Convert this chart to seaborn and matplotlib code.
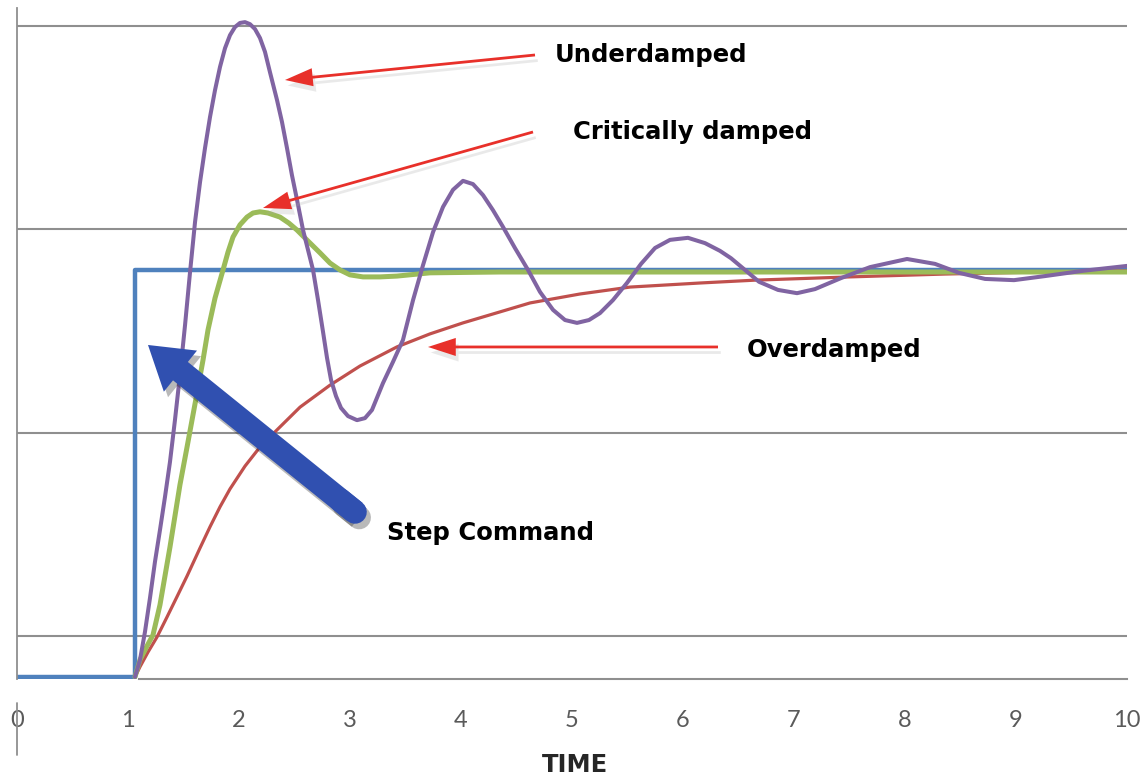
import matplotlib
matplotlib.use("Agg")
import matplotlib.pyplot as plt
import seaborn as sns
from matplotlib.patches import FancyArrowPatch
from matplotlib import patheffects as pe

# ---- data (time, response; 1.0 = commanded level) ----
step_t = [0.0, 1.06, 1.06, 10.0]
step_y = [0.0, 0.0, 1.0, 1.0]

over_t = [1.063, 1.108, 1.180, 1.261, 1.351, 1.441, 1.532, 1.649, 1.739, 1.829,
          1.919, 2.054, 2.189, 2.342, 2.550, 2.820, 3.090, 3.423, 3.721, 4.018,
          4.351, 4.622, 5.072, 5.523, 6.153, 6.649, 7.505, 8.360, 9.216, 10.0]
over_y = [0.000, 0.025, 0.061, 0.098, 0.147, 0.197, 0.248, 0.317, 0.369, 0.418,
          0.462, 0.518, 0.565, 0.607, 0.663, 0.717, 0.764, 0.811, 0.843, 0.870,
          0.897, 0.919, 0.941, 0.958, 0.968, 0.975, 0.983, 0.990, 0.995, 0.998]

crit_t = [1.063, 1.108, 1.171, 1.225, 1.288, 1.378, 1.468, 1.532, 1.622, 1.676,
          1.721, 1.784, 1.856, 1.901, 1.946, 2.009, 2.072, 2.126, 2.189, 2.261,
          2.369, 2.450, 2.523, 2.622, 2.730, 2.820, 2.910, 3.000, 3.117, 3.270,
          3.423, 3.721, 4.351, 10.0]
crit_y = [0.000, 0.042, 0.076, 0.103, 0.177, 0.319, 0.472, 0.565, 0.698, 0.779,
          0.853, 0.931, 1.000, 1.044, 1.081, 1.111, 1.130, 1.140, 1.143, 1.140,
          1.130, 1.115, 1.098, 1.071, 1.042, 1.017, 1.000, 0.988, 0.983, 0.983,
          0.985, 0.993, 0.995, 0.995]

under_t = [1.063, 1.108, 1.153, 1.198, 1.243, 1.288, 1.333, 1.378, 1.423, 1.468,
           1.514, 1.559, 1.604, 1.649, 1.694, 1.739, 1.784, 1.829, 1.874, 1.919,
           1.964, 2.009, 2.054, 2.099, 2.144, 2.189, 2.234, 2.279, 2.342, 2.387,
           2.432, 2.477, 2.523, 2.577, 2.622, 2.667, 2.712, 2.757, 2.793, 2.829,
           2.874, 2.919, 2.982, 3.063, 3.135, 3.198, 3.297, 3.387, 3.477, 3.568,
           3.658, 3.748, 3.838, 3.928, 4.018, 4.108, 4.198, 4.288, 4.378, 4.486,
           4.604, 4.712, 4.829, 4.937, 5.045, 5.153, 5.252, 5.369, 5.495, 5.622,
           5.748, 5.883, 6.045, 6.198, 6.333, 6.432, 6.559, 6.685, 6.856, 7.027,
           7.189, 7.423, 7.685, 8.018, 8.270, 8.486, 8.721, 8.982, 9.261, 9.604, 10.0]
under_y = [0.000, 0.042, 0.111, 0.194, 0.283, 0.361, 0.442, 0.528, 0.631, 0.742,
           0.865, 0.995, 1.118, 1.216, 1.300, 1.376, 1.442, 1.499, 1.545, 1.577,
           1.597, 1.607, 1.609, 1.604, 1.592, 1.570, 1.536, 1.486, 1.418, 1.364,
           1.300, 1.233, 1.172, 1.098, 1.049, 1.000, 0.926, 0.848, 0.784, 0.730,
           0.690, 0.661, 0.641, 0.631, 0.636, 0.656, 0.722, 0.774, 0.828, 0.926,
           1.012, 1.093, 1.155, 1.197, 1.219, 1.211, 1.184, 1.147, 1.106, 1.054,
           1.000, 0.946, 0.902, 0.877, 0.870, 0.877, 0.894, 0.926, 0.968, 1.015,
           1.054, 1.074, 1.079, 1.066, 1.047, 1.029, 1.000, 0.971, 0.951, 0.943,
           0.953, 0.980, 1.007, 1.027, 1.015, 0.993, 0.978, 0.975, 0.985, 0.998, 1.010]

x_ticks = list(range(0, 11))
x_labels = [str(v) for v in x_ticks]
grid_levels = [0.1, 0.6, 1.1, 1.6]

# Excel 2007 palette
c_step, c_over, c_crit, c_under = "#4f81bd", "#c0504d", "#9bbb59", "#8064a2"
c_grid = "#8f8f8f"


def px(x, y):
    # pixel position in the reference -> data coords (layout helper for annotations)
    return ((x - 17) / 111.0, (677 - y) / 407.0)


sns.set_style("white")
plt.rcParams["font.family"] = ["DejaVu Sans"]

fig = plt.figure(figsize=(11.48, 7.78), dpi=100)
ax = fig.add_axes([17 / 1148, (778 - 679) / 778, 1110 / 1148, 671 / 778])

sns.lineplot(x=step_t, y=step_y, ax=ax, color=c_step, lw=3.2, estimator=None, sort=False, zorder=2)
sns.lineplot(x=over_t, y=over_y, ax=ax, color=c_over, lw=2.3, estimator=None, sort=False, zorder=3)
sns.lineplot(x=crit_t, y=crit_y, ax=ax, color=c_crit, lw=3.6, estimator=None, sort=False, zorder=4)
sns.lineplot(x=under_t, y=under_y, ax=ax, color=c_under, lw=2.9, estimator=None, sort=False, zorder=5)

ax.set_xlim(0, 10)
ax.set_ylim(-0.005, 1.6437)

# grid / axes styling
ax.set_yticks(grid_levels)
ax.set_yticklabels([])
ax.yaxis.grid(True, color=c_grid, lw=1.5)
ax.xaxis.grid(False)
ax.set_xticks(x_ticks)
ax.set_xticklabels(x_labels, fontsize=17, color="#5a5a5a", family=["Lato", "DejaVu Sans"])
ax.tick_params(axis="x", direction="out", length=7, width=1.3, color=c_grid, pad=15)
ax.tick_params(axis="y", direction="out", length=6.5, width=1.5, color=c_grid)
for t in ax.xaxis.get_major_ticks()[:2]:
    t.tick1line.set_visible(False)
for s in ["top", "right"]:
    ax.spines[s].set_visible(False)
ax.spines["left"].set_color(c_grid)
ax.spines["left"].set_linewidth(1.3)
ax.spines["bottom"].set_color(c_grid)
ax.spines["bottom"].set_linewidth(1.5)
ax.spines["bottom"].set_bounds(1.1, 10)
# stray vertical mark through the "0" label
ax.plot([0, 0], [px(0, 703)[1], px(0, 755)[1]], color=c_grid, lw=1.3, clip_on=False)
ax.set_xlabel("")
ax.set_ylabel("")

# red pointer arrows with soft shadow
red = "#e8302a"
red_style = "simple,head_length=20,head_width=13,tail_width=2.0"
for tail, tip in [((535, 55), (285, 80)), ((533, 132), (263, 208)), ((718, 347), (428, 347))]:
    sh = FancyArrowPatch(px(*tail), px(*tip), arrowstyle=red_style, mutation_scale=1,
                         color=red, lw=0, zorder=7, shrinkA=0, shrinkB=0)
    sh.set_path_effects([pe.SimplePatchShadow(offset=(2, -4), shadow_rgbFace="#aaaaaa", alpha=0.25)])
    ax.add_patch(sh)
    arr = FancyArrowPatch(px(*tail), px(*tip), arrowstyle=red_style, mutation_scale=1,
                          color=red, lw=0, zorder=8, shrinkA=0, shrinkB=0)
    ax.add_patch(arr)

# big blue arrow for the step command (rounded tail)
blue = "#3050b0"
b_tail, b_tip, b_cap = px(355, 512), px(148, 345), px(340, 500)
blue_style = "simple,head_length=30,head_width=38,tail_width=17"
for z, effects in [(8, [pe.SimplePatchShadow(offset=(3, -4), shadow_rgbFace="#1a1a1a", alpha=0.3)]),
                   (9, None)]:
    big = FancyArrowPatch(b_tail, b_tip, arrowstyle=blue_style, mutation_scale=1,
                          color=blue, lw=0, zorder=z, shrinkA=0, shrinkB=0)
    if effects:
        big.set_path_effects(effects)
    ax.add_patch(big)
ax.plot([b_tail[0], b_cap[0]], [b_tail[1], b_cap[1]], color=blue, lw=17,
        solid_capstyle="round", zorder=8,
        path_effects=[pe.SimpleLineShadow(offset=(3, -4), shadow_color="#1a1a1a", alpha=0.3)])
ax.plot([b_tail[0], b_cap[0]], [b_tail[1], b_cap[1]], color=blue, lw=17,
        solid_capstyle="round", zorder=9)

# labels
lab = dict(fontsize=17.5, fontweight="bold", color="black", va="center", ha="left", zorder=10)
ax.text(*px(555, 55), "Underdamped", **lab)
ax.text(*px(573, 132), "Critically damped", **lab)
ax.text(*px(747, 350), "Overdamped", **lab)
ax.text(*px(387, 533), "Step Command", **lab)
fig.text(575 / 1148, 1 - 765 / 778, "TIME", fontsize=17.5, fontweight="bold",
         ha="center", va="center")

fig.savefig("out.png", dpi=100)
